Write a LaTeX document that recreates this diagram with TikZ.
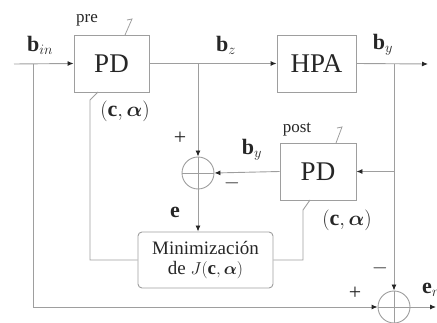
\documentclass[tikz,border=0pt]{standalone}
\usepackage{amsmath,bm}
\usepackage{fontspec}
\setmainfont{Liberation Serif}
\usetikzlibrary{arrows.meta,calc}
\begin{document}
\begin{tikzpicture}[x=1pt,y=-1pt,
  ln/.style={draw=black!38,line width=0.9pt},
  arr/.style={ln,-{Latex[length=6pt,width=5pt,color=black!85]}},
  blk/.style={ln,rectangle,inner sep=0pt,text=black!85,font=\fontsize{27}{30}\selectfont},
  sumc/.style={ln,circle,minimum size=32pt,inner sep=0pt},
  lbl/.style={text=black!85,inner sep=0pt,font=\fontsize{22}{25}\selectfont},
  sml/.style={text=black!85,inner sep=0pt,font=\fontsize{17}{19}\selectfont},
  sgn/.style={text=black!85,inner sep=0pt,font=\fontsize{22}{24}\selectfont}]
\useasboundingbox (0,0) rectangle (437,323);
% blocks
\node[blk,minimum width=75pt,minimum height=57pt] (pre) at (111.5,63.5) {PD};
\node[blk,minimum width=79pt,minimum height=57pt] (hpa) at (316.5,63.5) {HPA};
\node[blk,minimum width=76pt,minimum height=57pt] (post) at (318,171.5) {PD};
\node[blk,rounded corners=4pt,minimum width=135pt,minimum height=56pt,align=center,
      font=\fontsize{19}{20}\selectfont] (min) at (205.5,260)
      {Minimización\\ de $J(\mathbf{c},\bm{\alpha})$};
\node[sumc] (s1) at (198,173) {};
\node[sumc] (s2) at (394,307) {};
\draw[ln] (s1.west) -- (s1.east) (s1.north) -- (s1.south);
\draw[ln] (s2.west) -- (s2.east) (s2.north) -- (s2.south);
% coordinates
\coordinate (in) at (14,64);
\coordinate (sp1) at (33,64);
\coordinate (br) at (198,64);
\coordinate (sp2) at (394,64);
\coordinate (out) at (428,64);
\coordinate (er) at (436,307);
\coordinate (pp1) at (98,92);
\coordinate (pp2) at (90,100);
\coordinate (qp1) at (303,260);
\coordinate (qp2) at (303,210);
\coordinate (qp3) at (310,200);
% connectors
\draw[arr] (in) -- (pre.west);
\draw[arr] (pre.east) -- (hpa.west);
\draw[arr] (hpa.east) -- (out);
\draw[arr] (br) -- (s1.north);
\draw[arr] (s1.south) -- (s1.south |- min.north);
\draw[arr] (sp2) -- (s2.north);
\draw[arr] (sp2 |- post.east) -- (post.east);
\draw[arr] (post.west) -- (s1.east);
\draw[arr] (sp1) |- (s2.west);
\draw[arr] (s2.east) -- (er);
\draw[ln] (pp1) -- (pp2) |- (min.west);
\draw[ln] (min.east) -- (qp1) -- (qp2) -- (qp3);
% adjust marks
\draw[ln,line width=0.8pt] (125,35) -- (132,19) -- (127,20);
\draw[ln,line width=0.8pt] (336,143) -- (342,127) -- (337,128);
% labels
\node[lbl] (lbin) at (40,45) {$\mathbf{b}_{in}$};
\node[sml] (lpre) at (87,20) {pre};
\node[lbl] (lca1) at (125,111) {$(\mathbf{c},\bm{\alpha})$};
\node[lbl] (lbz) at (226,45) {$\mathbf{b}_z$};
\node[lbl] (lby) at (383,45) {$\mathbf{b}_y$};
\node[sgn] (lp1) at (180,138) {+};
\node[lbl] (lby2) at (252,150) {$\mathbf{b}_y$};
\node[sml] (lpost) at (297,130) {post};
\node[sgn] (lm1) at (232,183) {$-$};
\node[lbl] (le) at (175,212) {$\mathbf{e}$};
\node[lbl] (lca2) at (347,220) {$(\mathbf{c},\bm{\alpha})$};
\node[sgn] (lm2) at (380,268) {$-$};
\node[sgn] (lp2) at (355,293) {+};
\node[lbl,anchor=west] (ler) at (422,290) {$\mathbf{e}_r$};
\end{tikzpicture}
\end{document}
